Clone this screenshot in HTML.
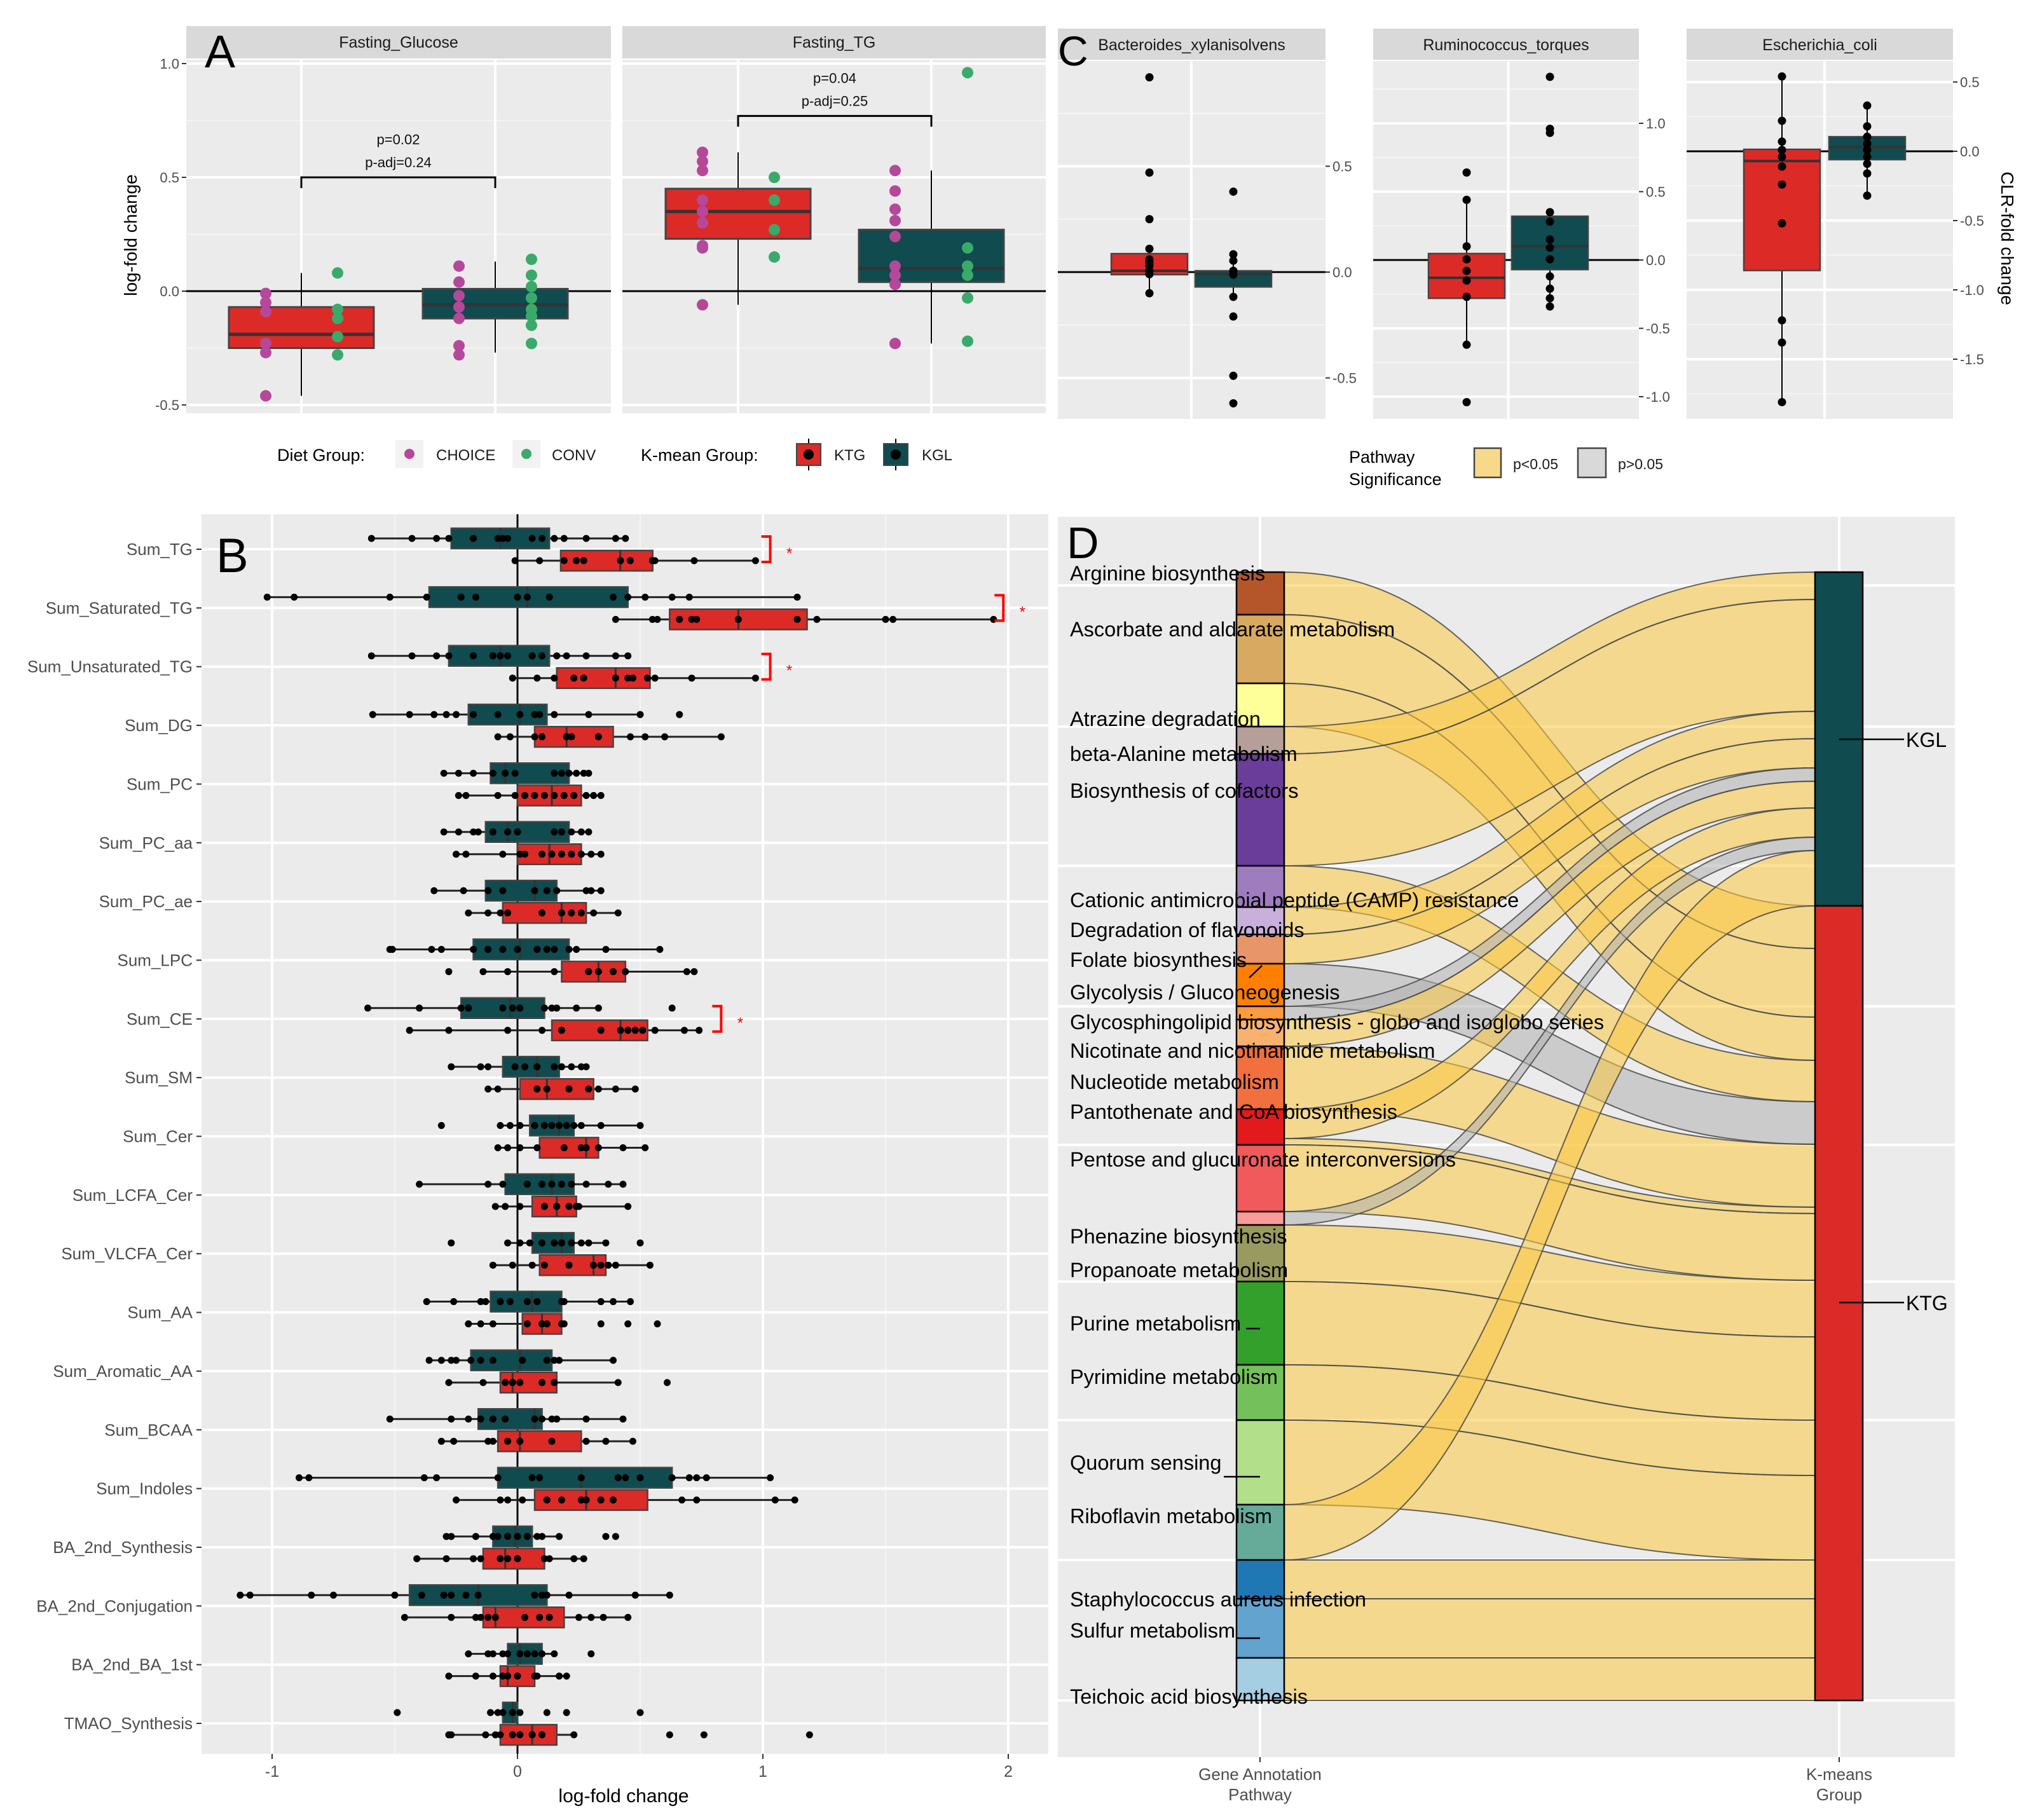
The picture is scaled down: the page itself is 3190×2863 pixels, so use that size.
<!DOCTYPE html>
<html><head><meta charset="utf-8"><style>
html,body{margin:0;padding:0;background:#fff;}
svg{display:block;font-family:"Liberation Sans",Arial,sans-serif;}
</style></head><body>
<svg id="fig" width="3190" height="2863" viewBox="0 0 3190 2863" xmlns="http://www.w3.org/2000/svg"></svg>
<script>
// ===== Panel A data =====
const aFacets = ["Fasting_Glucose","Fasting_TG"];
const aKTGStats = [[-0.46,-0.25,-0.19,-0.07,0.08],[-0.06,0.23,0.35,0.45,0.61]];
const aKGLStats = [[-0.27,-0.12,-0.06,0.01,0.13],[-0.23,0.04,0.10,0.27,0.53]];
const aKTGChoice = [[-0.01,-0.05,-0.09,-0.23,-0.27,-0.46],[0.61,0.57,0.53,0.40,0.35,0.30,0.20,0.19,-0.06]];
const aKTGConv = [[0.08,-0.08,-0.12,-0.20,-0.28],[0.50,0.40,0.27,0.15]];
const aKGLChoice = [[0.11,0.04,-0.02,-0.07,-0.12,-0.24,-0.28],[0.53,0.44,0.36,0.31,0.24,0.11,0.07,0.03,-0.23]];
const aKGLConv = [[0.14,0.07,0.02,-0.03,-0.08,-0.11,-0.15,-0.23],[0.96,0.19,0.11,0.07,-0.03,-0.22]];
const aPText = [["p=0.02","p-adj=0.24"],["p=0.04","p-adj=0.25"]];
const aBracketY = [0.5,0.77];
const aTicks = [1.0,0.5,0.0,-0.5];
const aTickLabels = ["1.0","0.5","0.0","-0.5"];

// ===== Panel B data =====
const bCats = ["Sum_TG","Sum_Saturated_TG","Sum_Unsaturated_TG","Sum_DG","Sum_PC","Sum_PC_aa","Sum_PC_ae","Sum_LPC","Sum_CE","Sum_SM","Sum_Cer","Sum_LCFA_Cer","Sum_VLCFA_Cer","Sum_AA","Sum_Aromatic_AA","Sum_BCAA","Sum_Indoles","BA_2nd_Synthesis","BA_2nd_Conjugation","BA_2nd_BA_1st","TMAO_Synthesis"];
const bKGLStats = [[-0.595,-0.27,-0.07,0.13,0.44],[-1.02,-0.36,0.04,0.45,1.14],[-0.595,-0.28,-0.07,0.13,0.45],[-0.59,-0.2,0.01,0.12,0.5],[-0.3,-0.11,-0.05,0.21,0.29],[-0.3,-0.13,-0.04,0.21,0.29],[-0.34,-0.13,0.07,0.16,0.34],[-0.52,-0.18,0.01,0.21,0.58],[-0.61,-0.23,-0.03,0.11,0.33],[-0.27,-0.06,0.08,0.17,0.28],[-0.07,0.05,0.17,0.23,0.5],[-0.4,-0.05,0.14,0.23,0.43],[-0.04,0.06,0.18,0.23,0.36],[-0.37,-0.11,0.06,0.18,0.46],[-0.36,-0.19,0.01,0.14,0.39],[-0.52,-0.16,0.07,0.1,0.43],[-0.89,-0.08,0.26,0.63,1.03],[-0.29,-0.1,-0.01,0.06,0.17],[-1.13,-0.44,-0.16,0.12,0.62],[-0.2,-0.04,0.01,0.1,0.15],[-0.11,-0.06,-0.02,0,0.01]];
const bKTGStats = [[-0.01,0.176,0.419,0.551,0.97],[0.40,0.62,0.90,1.18,1.94],[-0.02,0.16,0.40,0.54,0.97],[-0.08,0.07,0.2,0.39,0.83],[-0.24,0,0.14,0.26,0.34],[-0.25,0,0.13,0.26,0.34],[-0.2,-0.06,0.18,0.28,0.41],[-0.14,0.18,0.33,0.44,0.72],[-0.44,0.14,0.42,0.53,0.74],[-0.12,0.01,0.12,0.31,0.48],[-0.08,0.09,0.28,0.33,0.52],[-0.09,0.06,0.16,0.24,0.45],[-0.1,0.09,0.31,0.36,0.54],[-0.2,0.02,0.1,0.18,0.19],[-0.28,-0.07,-0.02,0.16,0.41],[-0.31,-0.08,0.01,0.26,0.47],[-0.25,0.07,0.28,0.53,1.13],[-0.41,-0.14,-0.05,0.11,0.27],[-0.46,-0.14,-0.09,0.19,0.45],[-0.28,-0.07,-0.04,0.07,0.2],[-0.28,-0.07,0.06,0.16,0.23]];
const bKGLPts = [
[-0.595,-0.43,-0.33,-0.28,-0.18,-0.08,-0.06,-0.04,0.06,0.1,0.15,0.19,0.28,0.4,0.44],
[-1.02,-0.91,-0.52,-0.37,-0.23,-0.17,0,0.04,0.13,0.39,0.45,0.52,0.63,0.70,1.14],
[-0.595,-0.43,-0.33,-0.28,-0.18,-0.1,-0.07,-0.04,0.06,0.1,0.16,0.2,0.28,0.4,0.45],
[-0.59,-0.44,-0.34,-0.29,-0.25,-0.18,-0.08,0.01,0.07,0.09,0.15,0.29,0.5,0.66],
[-0.3,-0.24,-0.18,-0.1,-0.05,-0.01,0.15,0.18,0.21,0.24,0.27,0.29],
[-0.3,-0.24,-0.18,-0.16,-0.1,-0.04,0,0.15,0.18,0.22,0.26,0.29],
[-0.34,-0.22,-0.12,-0.06,0.07,0.12,0.16,0.28,0.3,0.34],
[-0.52,-0.51,-0.35,-0.31,-0.18,-0.12,-0.06,0,0.08,0.12,0.15,0.21,0.24,0.36,0.58],
[-0.61,-0.4,-0.23,-0.2,-0.06,-0.02,0.01,0.11,0.14,0.16,0.24,0.33,0.63],
[-0.27,-0.15,-0.12,-0.01,0.03,0.08,0.15,0.18,0.22,0.26,0.28],
[-0.31,-0.07,-0.03,0.01,0.07,0.11,0.14,0.17,0.2,0.23,0.26,0.34,0.5],
[-0.4,-0.12,-0.06,0.04,0.1,0.14,0.18,0.22,0.28,0.37,0.43],
[-0.27,-0.04,0.01,0.05,0.1,0.15,0.18,0.22,0.26,0.29,0.36,0.5],
[-0.37,-0.26,-0.15,-0.13,-0.07,-0.03,0.04,0.08,0.18,0.19,0.34,0.39,0.46],
[-0.36,-0.31,-0.27,-0.25,-0.19,-0.15,-0.1,0.02,0.12,0.15,0.17,0.39],
[-0.52,-0.27,-0.2,-0.15,-0.1,-0.05,0.07,0.1,0.14,0.16,0.28,0.43],
[-0.89,-0.85,-0.38,-0.33,-0.08,0.06,0.09,0.26,0.41,0.44,0.5,0.63,0.7,0.73,0.77,1.03],
[-0.29,-0.27,-0.17,-0.1,-0.08,-0.04,0,0.04,0.08,0.1,0.17,0.36,0.4],
[-1.13,-1.09,-0.84,-0.75,-0.5,-0.39,-0.3,-0.27,-0.21,-0.16,0.07,0.1,0.12,0.21,0.48,0.62],
[-0.2,-0.12,-0.1,-0.06,-0.04,0.01,0.04,0.07,0.1,0.15,0.3],
[-0.49,-0.11,-0.08,-0.06,-0.02,0.01,0.12,0.2,0.5]];
const bKTGPts = [
[-0.01,0.09,0.19,0.24,0.27,0.42,0.46,0.55,0.56,0.72,0.97],
[0.40,0.55,0.57,0.66,0.71,0.73,0.90,1.14,1.22,1.50,1.53,1.94],
[-0.02,0.08,0.15,0.23,0.27,0.40,0.45,0.47,0.53,0.56,0.71,0.97],
[-0.08,-0.03,0.07,0.1,0.2,0.22,0.33,0.46,0.52,0.6,0.83],
[-0.24,-0.21,-0.08,-0.01,0.03,0.07,0.11,0.15,0.19,0.23,0.28,0.31,0.34],
[-0.25,-0.21,-0.06,0.01,0.03,0.1,0.14,0.18,0.22,0.26,0.3,0.34],
[-0.2,-0.12,-0.07,-0.04,0.1,0.18,0.22,0.26,0.31,0.41],
[-0.28,-0.14,-0.04,0.15,0.29,0.33,0.39,0.44,0.69,0.72],
[-0.44,-0.28,-0.04,0.1,0.18,0.34,0.42,0.45,0.48,0.51,0.56,0.68,0.74],
[-0.12,-0.08,0.08,0.12,0.21,0.29,0.33,0.4,0.48],
[-0.08,-0.04,0.01,0.08,0.19,0.26,0.28,0.33,0.43,0.52],
[-0.09,-0.05,0.01,0.11,0.16,0.21,0.24,0.25,0.45],
[-0.1,-0.02,0.06,0.11,0.21,0.31,0.34,0.37,0.4,0.54],
[-0.2,-0.15,-0.1,0.04,0.1,0.12,0.18,0.19,0.34,0.45,0.57],
[-0.28,-0.14,-0.05,-0.02,0.01,0.1,0.15,0.41,0.61],
[-0.31,-0.26,-0.12,-0.1,-0.04,0.01,0.14,0.28,0.36,0.47],
[-0.25,-0.07,-0.04,0.02,0.12,0.18,0.26,0.28,0.34,0.39,0.67,0.73,1.05,1.13],
[-0.41,-0.29,-0.18,-0.15,-0.07,-0.04,0,0.11,0.13,0.23,0.27],
[-0.46,-0.27,-0.17,-0.15,-0.12,-0.09,0.03,0.09,0.13,0.25,0.3,0.35,0.45],
[-0.28,-0.17,-0.1,-0.06,-0.04,0,0.07,0.08,0.17,0.2],
[-0.28,-0.27,-0.13,-0.09,-0.07,-0.02,0.01,0.06,0.1,0.23,0.62,0.76,1.19]];
const bSigRows = [0,1,2,8];
const bSigX = [1.03,1.98,1.03,0.83];
const bTicks = [-1,0,1,2];
const bTickLabels = ["-1","0","1","2"];

// ===== Panel C data =====
const cTaxa = ["Bacteroides_xylanisolvens","Ruminococcus_torques","Escherichia_coli"];
const cKTGStats = [[-0.10,-0.012,0.006,0.087,0.11],[-0.62,-0.28,-0.13,0.047,0.44],[-1.81,-0.86,-0.07,0.014,0.54]];
const cKGLStats = [[-0.117,-0.07,-0.009,0.006,0.084],[-0.34,-0.07,0.10,0.32,0.35],[-0.32,-0.06,0.03,0.105,0.33]];
const cKTGPts = [[0.92,0.47,0.25,0.11,0.06,0.045,0.03,0.006,-0.01,-0.10],[0.64,0.44,0.10,0.005,-0.08,-0.15,-0.27,-0.62,-1.04],[0.54,0.22,0.07,0.01,-0.04,-0.11,-0.24,-0.52,-1.22,-1.38,-1.81]];
const cKGLPts = [[0.38,0.084,0.054,0.006,-0.012,-0.117,-0.21,-0.49,-0.62],[1.34,0.96,0.93,0.35,0.28,0.15,0.09,0.005,-0.12,-0.21,-0.28,-0.34],[0.33,0.18,0.105,0.055,0.01,-0.04,-0.09,-0.16,-0.32]];
const cTicks = [[0.5,0,-0.5],[1.0,0.5,0,-0.5,-1.0],[0.5,0,-0.5,-1.0,-1.5]];
const cTickLabels = [["0.5","0.0","-0.5"],["1.0","0.5","0.0","-0.5","-1.0"],["0.5","0.0","-0.5","-1.0","-1.5"]];

// ===== Panel D data =====
const dPathways = ["Arginine biosynthesis","Ascorbate and aldarate metabolism","Atrazine degradation","beta-Alanine metabolism","Biosynthesis of cofactors","Cationic antimicrobial peptide (CAMP) resistance","Degradation of flavonoids","Folate biosynthesis","Glycolysis / Gluconeogenesis","Glycosphingolipid biosynthesis - globo and isoglobo series","Nicotinate and nicotinamide metabolism","Nucleotide metabolism","Pantothenate and CoA biosynthesis","Pentose and glucuronate interconversions","Phenazine biosynthesis","Propanoate metabolism","Purine metabolism","Pyrimidine metabolism","Quorum sensing","Riboflavin metabolism","Staphylococcus aureus infection","Sulfur metabolism","Teichoic acid biosynthesis"];
const dToKGL = [0,0,0,43,176,0,43,46,0,21,42,0,46,0,21,0,0,0,0,87,0,0,0];
const dToKTG = [67,108,68,0,0,65,0,0,67,0,0,99,10,105,0,89,131,87,133,0,61,93,67];
const dSigKGL = [1,1,1,1,1,1,1,1,1,0,1,1,1,1,0,1,1,1,1,1,1,1,1];
const dSigKTG = [1,1,1,1,1,1,1,1,0,1,1,1,1,1,1,1,1,1,1,1,1,1,1];
const dColors = ["#b5562a","#d8a960","#ffff99","#b59f98","#6a3d9a","#9e7cbd","#c9b0dc","#e8956a","#ff7f00","#fd9b3f","#f9b26e","#f26f3e","#e31a1c","#f05a5a","#fb9a99","#999a60","#33a02c","#74c15b","#b2df8a","#66ab9a","#1f78b4","#62a3d0","#a6cee3"];
const dLabelY = [912,1000,1141,1196,1254,1426,1473,1520,1571,1618,1663,1712,1759,1834,1955,2008,2092,2176,2311,2395,2526,2575,2679];

// ===== helpers =====
const NS = "http://www.w3.org/2000/svg";
const svg = document.getElementById("fig");
function mk(tag, attrs, parent){ const e=document.createElementNS(NS,tag); for(const k in attrs) e.setAttribute(k,attrs[k]); (parent||svg).appendChild(e); return e; }
function txt(s, attrs, parent){ const e=mk("text",attrs,parent); e.textContent=s; return e; }
const RED="#dc2a27", TEAL="#0f4b4f", PANEL="#ebebeb";

// ===== Panel A =====
const aPanels=[[293,961],[979,1645]];
const aCenters=[[474,779],[1161,1465]];
function ay(v){ return 458 - v*358; }
const gA = mk("g",{});  
aFacets.forEach((f,i)=>{
  const [x0,x1]=aPanels[i];
  const strip=mk("rect",{x:x0,y:41,width:x1-x0,height:51,fill:"#d9d9d9"},gA);
   
  const st=txt(f,{x:(x0+x1)/2,y:75,"font-size":25,"text-anchor":"middle",fill:"#1a1a1a"},gA);
   
  const bg=mk("rect",{x:x0,y:94,width:x1-x0,height:556,fill:PANEL},gA);
   
  [0.75,0.25,-0.25].forEach(v=>mk("line",{x1:x0,x2:x1,y1:ay(v),y2:ay(v),stroke:"#f5f5f5","stroke-width":2},gA));
  aTicks.forEach(v=>mk("line",{x1:x0,x2:x1,y1:ay(v),y2:ay(v),stroke:"#fff","stroke-width":4},gA));
  aCenters[i].forEach(c=>mk("line",{x1:c,x2:c,y1:94,y2:650,stroke:"#fff","stroke-width":4},gA));
  mk("line",{x1:x0,x2:x1,y1:ay(0),y2:ay(0),stroke:"#000","stroke-width":3},gA);
  [[aKTGStats[i],RED,aCenters[i][0],'box-ktg'],[aKGLStats[i],TEAL,aCenters[i][1],'box-kgl']].forEach(([s,col,c,nm])=>{
    mk("line",{x1:c,x2:c,y1:ay(s[4]),y2:ay(s[0]),stroke:"#000","stroke-width":2},gA);
    const b=mk("rect",{x:c-114,y:ay(s[3]),width:228,height:ay(s[1])-ay(s[3]),fill:col,stroke:"#444","stroke-width":3},gA);
     
    mk("line",{x1:c-114,x2:c+114,y1:ay(s[2]),y2:ay(s[2]),stroke:"#333","stroke-width":5},gA);
  });
  const pts=[[aKTGChoice[i],aCenters[i][0]-56,"#b5489a"],[aKTGConv[i],aCenters[i][0]+57,"#3aaa6a"],[aKGLChoice[i],aCenters[i][1]-57,"#b5489a"],[aKGLConv[i],aCenters[i][1]+57,"#3aaa6a"]];
  pts.forEach(([arr,x,col])=>arr.forEach(v=>{
    const d=mk("circle",{cx:x,cy:ay(v),r:9,fill:col},gA);
     
  }));
  const [c0,c1]=aCenters[i]; const by=ay(aBracketY[i]);
  const br=mk("path",{d:`M${c0} ${by+17} V${by} H${c1} V${by+17}`,fill:"none",stroke:"#000","stroke-width":3},gA);
   
  txt(aPText[i][0],{x:(c0+c1)/2,y:by-52,"font-size":22,"text-anchor":"middle",fill:"#111"},gA);
  txt(aPText[i][1],{x:(c0+c1)/2,y:by-16,"font-size":22,"text-anchor":"middle",fill:"#111"},gA);
});
aTicks.forEach((v,k)=>{
  mk("line",{x1:286,x2:293,y1:ay(v),y2:ay(v),stroke:"#333","stroke-width":2},gA);
  const t=txt(aTickLabels[k],{x:282,y:ay(v)+8,"font-size":22,"text-anchor":"end",fill:"#4d4d4d"},gA);
   
});
const aTitle=txt("log-fold change",{x:0,y:0,"font-size":28,"text-anchor":"middle",fill:"#000",transform:"translate(215,370) rotate(-90)"},gA);
 
const aLetter=txt("A",{x:322,y:106,"font-size":72,fill:"#000"},gA);
 
// legend A
const lgA=mk("g",{},gA);  
txt("Diet Group:",{x:436,y:725,"font-size":27,fill:"#000"},lgA);
mk("rect",{x:622,y:692,width:44,height:44,fill:"#f2f2f2"},lgA);
mk("circle",{cx:644,cy:714,r:8,fill:"#b5489a"},lgA);
txt("CHOICE",{x:686,y:724,"font-size":24,fill:"#1a1a1a"},lgA);
mk("rect",{x:806,y:692,width:44,height:44,fill:"#f2f2f2"},lgA);
mk("circle",{cx:828,cy:714,r:8,fill:"#3aaa6a"},lgA);
txt("CONV",{x:868,y:724,"font-size":24,fill:"#1a1a1a"},lgA);
txt("K-mean Group:",{x:1008,y:725,"font-size":27,fill:"#000"},lgA);
[[1253,RED,"KTG",1312],[1390,TEAL,"KGL",1450]].forEach(([x,col,lab,tx])=>{
  mk("line",{x1:x+19,x2:x+19,y1:690,y2:740,stroke:"#000","stroke-width":2},lgA);
  mk("rect",{x:x,y:698,width:38,height:34,fill:col,stroke:"#444","stroke-width":2},lgA);
  mk("circle",{cx:x+19,cy:715,r:8,fill:"#000"},lgA);
  txt(lab,{x:tx,y:724,"font-size":24,fill:"#1a1a1a"},lgA);
});

// ===== Panel B =====
function bx(v){ return 814 + v*386; }
function byRow(i){ return 864 + i*92.35; }
const gB=mk("g",{});  
const bBg=mk("rect",{x:317,y:809,width:1332,height:1950,fill:PANEL},gB);
 
[-0.5,0.5,1.5].forEach(v=>mk("line",{x1:bx(v),x2:bx(v),y1:809,y2:2759,stroke:"#f5f5f5","stroke-width":2},gB));
bTicks.forEach(v=>mk("line",{x1:bx(v),x2:bx(v),y1:809,y2:2759,stroke:"#fff","stroke-width":4},gB));
bCats.forEach((c,i)=>mk("line",{x1:317,x2:1649,y1:byRow(i),y2:byRow(i),stroke:"#fff","stroke-width":4},gB));
mk("line",{x1:bx(0),x2:bx(0),y1:809,y2:2759,stroke:"#000","stroke-width":3},gB);
function bBox(s,pts,yc,col,nm){
  mk("line",{x1:bx(s[0]),x2:bx(s[4]),y1:yc,y2:yc,stroke:"#222","stroke-width":3},gB);
  const r=mk("rect",{x:bx(s[1]),y:yc-16,width:bx(s[3])-bx(s[1]),height:32,fill:col,stroke:"#444","stroke-width":2.5},gB);
   
  mk("line",{x1:bx(s[2]),x2:bx(s[2]),y1:yc-16,y2:yc+16,stroke:"#333","stroke-width":3},gB);
  pts.forEach(v=>{ const d=mk("circle",{cx:bx(v),cy:yc,r:5.5,fill:"#000"},gB);   });
}
bCats.forEach((c,i)=>{
  const y=byRow(i);
  bBox(bKGLStats[i],bKGLPts[i],y-17,TEAL,'box-kgl-'+c.toLowerCase());
  bBox(bKTGStats[i],bKTGPts[i],y+18,RED,'box-ktg-'+c.toLowerCase());
  mk("line",{x1:309,x2:317,y1:y,y2:y,stroke:"#333","stroke-width":2},gB);
  const t=txt(c,{x:303,y:y+9,"font-size":26,"text-anchor":"end",fill:"#4d4d4d"},gB);
   
});
bSigRows.forEach((r,k)=>{
  const y=byRow(r), x=bx(bSigX[k]);
  const br=mk("path",{d:`M${x-14} ${y-20} H${x} V${y+20} H${x-14}`,fill:"none",stroke:"#f00","stroke-width":4},gB);
   
  txt("*",{x:x+30,y:y+14,"font-size":24,"text-anchor":"middle",fill:"#f00"},gB);
});
bTicks.forEach((v,k)=>{
  mk("line",{x1:bx(v),x2:bx(v),y1:2759,y2:2767,stroke:"#333","stroke-width":2},gB);
  const t=txt(bTickLabels[k],{x:bx(v),y:2795,"font-size":25,"text-anchor":"middle",fill:"#4d4d4d"},gB);
   
});
const bTitle=txt("log-fold change",{x:981,y:2835,"font-size":30,"text-anchor":"middle",fill:"#000"},gB);
 
const bLetter=txt("B",{x:340,y:900,"font-size":76,fill:"#000"},gB);
 

// ===== Panel C =====
const cPanels=[[1664,2085],[2160,2578],[2653,3072]];
const cZero=[428,409,238], cUnit=[333,215,218];
const cCenters=[[1808,1940],[2307,2438],[2803,2937]];
const gC=mk("g",{});  
cTaxa.forEach((tx,i)=>{
  const [x0,x1]=cPanels[i]; const cy=v=>cZero[i]-v*cUnit[i];
  const strip=mk("rect",{x:x0,y:45,width:x1-x0,height:49,fill:"#d9d9d9"},gC);
   
  txt(tx,{x:(x0+x1)/2,y:79,"font-size":25,"text-anchor":"middle",fill:"#1a1a1a"},gC);
  const bg=mk("rect",{x:x0,y:96,width:x1-x0,height:563,fill:PANEL},gC);
   
  for(let v=-2;v<=1.5;v+=0.25){ const y=cy(v); if(y>96&&y<659) mk("line",{x1:x0,x2:x1,y1:y,y2:y,stroke:(Math.abs(v*2-Math.round(v*2))<1e-6)?"#fff":"#f5f5f5","stroke-width":(Math.abs(v*2-Math.round(v*2))<1e-6)?4:2},gC); }
  const gx=(cCenters[i][0]+cCenters[i][1])/2;
  mk("line",{x1:gx,x2:gx,y1:96,y2:659,stroke:"#fff","stroke-width":4},gC);
  mk("line",{x1:x0,x2:x1,y1:cy(0),y2:cy(0),stroke:"#000","stroke-width":3},gC);
  [[cKTGStats[i],cKTGPts[i],RED,cCenters[i][0],'box-ktg'],[cKGLStats[i],cKGLPts[i],TEAL,cCenters[i][1],'box-kgl']].forEach(([s,pts,col,c,nm])=>{
    mk("line",{x1:c,x2:c,y1:cy(s[4]),y2:cy(s[0]),stroke:"#000","stroke-width":2},gC);
    const b=mk("rect",{x:c-60,y:cy(s[3]),width:120,height:cy(s[1])-cy(s[3]),fill:col,stroke:"#444","stroke-width":2.5},gC);
     
    mk("line",{x1:c-60,x2:c+60,y1:cy(s[2]),y2:cy(s[2]),stroke:"#333","stroke-width":4},gC);
    pts.forEach(v=>{ const d=mk("circle",{cx:c,cy:cy(v),r:6.5,fill:"#000"},gC);   });
  });
  cTicks[i].forEach((v,k)=>{
    mk("line",{x1:x1,x2:x1+7,y1:cy(v),y2:cy(v),stroke:"#333","stroke-width":2},gC);
    const t=txt(cTickLabels[i][k],{x:x1+11,y:cy(v)+8,"font-size":22,fill:"#4d4d4d"},gC);
     
  });
});
const cTitle=txt("CLR-fold change",{x:0,y:0,"font-size":28,"text-anchor":"middle",fill:"#000",transform:"translate(3148,375) rotate(90)"},gC);
 
const cLetter=txt("C",{x:1664,y:103,"font-size":66,fill:"#000"},gC);
 
const lgC=mk("g",{},gC);  
txt("Pathway",{x:2122,y:728,"font-size":27,fill:"#000"},lgC);
txt("Significance",{x:2122,y:763,"font-size":27,fill:"#000"},lgC);
mk("rect",{x:2319,y:705,width:42,height:46,fill:"#f6d98a",stroke:"#444","stroke-width":2.5},lgC);
txt("p<0.05",{x:2380,y:738,"font-size":23,fill:"#1a1a1a"},lgC);
mk("rect",{x:2482,y:705,width:44,height:46,fill:"#d9d9d9",stroke:"#444","stroke-width":2.5},lgC);
txt("p>0.05",{x:2545,y:738,"font-size":23,fill:"#1a1a1a"},lgC);

// ===== Panel D =====
const gD=mk("g",{});  
const dBg=mk("rect",{x:1664,y:813,width:1411,height:1951,fill:PANEL},gD);
 
[921,1143,1362,1583,1801,2016,2234,2454,2675].forEach(y=>mk("line",{x1:1664,x2:3075,y1:y,y2:y,stroke:"#fff","stroke-width":4},gD));
[1982,2893].forEach(x=>mk("line",{x1:x,x2:x,y1:813,y2:2764,stroke:"#fff","stroke-width":4},gD));
const dTop=900, LX=2020, RX=2855;
let total=0; dPathways.forEach((p,i)=>{ total+=dToKGL[i]+dToKTG[i]; });
const totKGL=dToKGL.reduce((a,b)=>a+b,0);
const dScale=1775/total;
let ly=dTop; const leftPos=[];
dPathways.forEach((p,i)=>{ leftPos.push(ly); ly+=(dToKGL[i]+dToKTG[i])*dScale; });
let rK=dTop, rT=dTop+totKGL*dScale;
const flows=[];
dPathways.forEach((p,i)=>{
  let y=leftPos[i];
  if(dToKGL[i]>0){ const h=dToKGL[i]*dScale; flows.push([y,y+h,rK,rK+h,dSigKGL[i]]); y+=h; rK+=h; }
  if(dToKTG[i]>0){ const h=dToKTG[i]*dScale; flows.push([y,y+h,rT,rT+h,dSigKTG[i]]); y+=h; rT+=h; }
});
const mx=(LX+RX)/2;
flows.forEach(f=>{
  const [a0,a1,b0,b1,sig]=f;
  const p=mk("path",{d:`M${LX} ${a0} C${mx} ${a0},${mx} ${b0},${RX} ${b0} L${RX} ${b1} C${mx} ${b1},${mx} ${a1},${LX} ${a1} Z`,fill:sig?"#f9c942":"#b0b0b0","fill-opacity":0.55,stroke:"#4a4a4a","stroke-opacity":0.85,"stroke-width":2},gD);
   
});
dPathways.forEach((p,i)=>{
  const h=(dToKGL[i]+dToKTG[i])*dScale;
  const r=mk("rect",{x:1945,y:leftPos[i],width:75,height:h,fill:dColors[i],stroke:"#000","stroke-width":2.5},gD);
   
});
const kgl=mk("rect",{x:2855,y:dTop,width:75,height:totKGL*dScale,fill:TEAL,stroke:"#000","stroke-width":2.5},gD);
 
const ktg=mk("rect",{x:2855,y:dTop+totKGL*dScale,width:75,height:2675-(dTop+totKGL*dScale),fill:RED,stroke:"#000","stroke-width":2.5},gD);
 
dPathways.forEach((p,i)=>{
  const t=txt(p,{x:1683,y:dLabelY[i]+1,"font-size":32.5,fill:"#000"},gD);
   
});
[[2090,1960],[2323,1925],[2577,1945]].forEach(([y,x])=>mk("line",{x1:x,x2:1982,y1:y,y2:y,stroke:"#000","stroke-width":2.5},gD));
mk("line",{x1:1965,x2:1985,y1:1538,y2:1519,stroke:"#000","stroke-width":2.5},gD);
mk("line",{x1:2893,x2:2995,y1:1163,y2:1163,stroke:"#000","stroke-width":2.5},gD);
mk("line",{x1:2893,x2:2995,y1:2049,y2:2049,stroke:"#000","stroke-width":2.5},gD);
txt("KGL",{x:2998,y:1175,"font-size":32,fill:"#000"},gD);
txt("KTG",{x:2998,y:2061,"font-size":32,fill:"#000"},gD);
[[1982,"Gene Annotation","Pathway"],[2893,"K-means","Group"]].forEach(([x,l1,l2])=>{
  mk("line",{x1:x,x2:x,y1:2764,y2:2772,stroke:"#333","stroke-width":2},gD);
  const t=txt(l1,{x:x,y:2800,"font-size":26,"text-anchor":"middle",fill:"#4d4d4d"},gD);
   
  txt(l2,{x:x,y:2832,"font-size":26,"text-anchor":"middle",fill:"#4d4d4d"},gD);
});
const dLetter=txt("D",{x:1678,y:878,"font-size":70,fill:"#000"},gD);
 
</script>
</body></html>
